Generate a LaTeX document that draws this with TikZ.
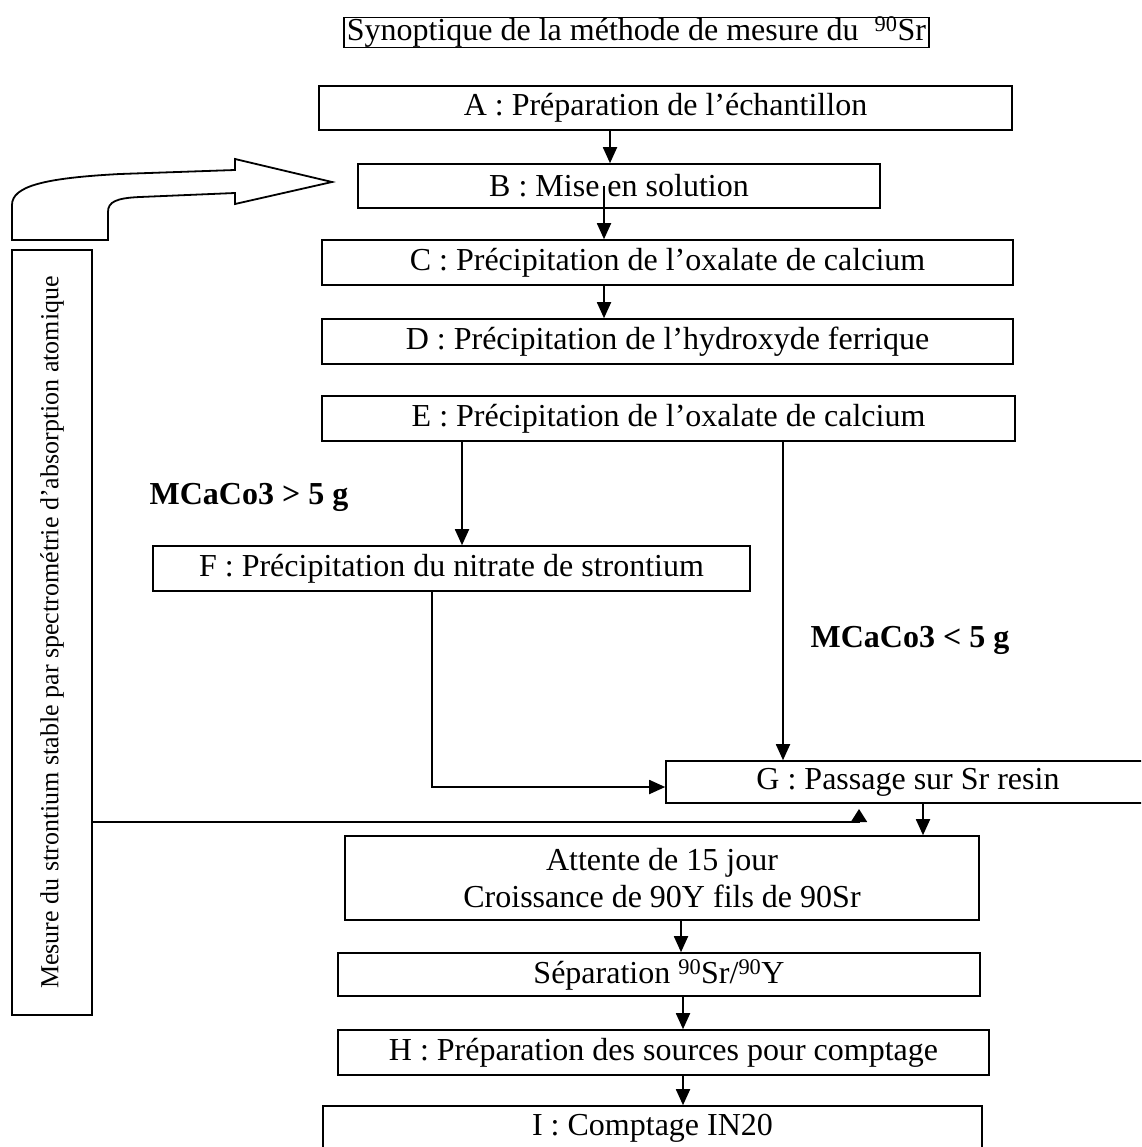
\documentclass[tikz,border=0pt]{standalone}
\usepackage{fontspec}
\setmainfont{Liberation Serif}
\usetikzlibrary{arrows.meta}

\tikzset{
  boite/.style={draw, line width=1.6pt, inner sep=0pt, font=\fontsize{32}{37}\selectfont},
  etiquette/.style={font=\fontsize{32}{37}\selectfont\bfseries},
  fleche/.style={line width=1.8pt, -{Triangle[length=16pt,width=14pt]}},
}

\begin{document}
\begin{tikzpicture}[x=1pt,y=-1pt]

    \useasboundingbox (0,0) rectangle (1141,1147) ;
    \clip (0,0) rectangle (1141,1147) ;

    % boxes
    \node[boite, anchor=west, inner xsep=3pt, text height=23pt, text depth=7pt] (titre) at (343,32.5) {Synoptique de la méthode de mesure du \ \textsuperscript{90}Sr} ;

    \node[boite, minimum width=693pt, minimum height=44pt] (A) at (665.5,108) {A : Préparation de l’échantillon} ;
    \node[boite, minimum width=522pt, minimum height=44pt] (B) at (619,186) {B : Mise en solution} ;
    \node[boite, minimum width=691pt, minimum height=45pt] (C) at (667.5,262.5) {C : Précipitation de l’oxalate de calcium} ;
    \node[boite, minimum width=691pt, minimum height=45pt] (D) at (667.5,341.5) {D : Précipitation de l’hydroxyde ferrique} ;
    \node[boite, minimum width=693pt, minimum height=45pt] (E) at (668.5,418.5) {E : Précipitation de l’oxalate de calcium} ;
    \node[boite, minimum width=597pt, minimum height=45pt] (F) at (451.5,568.5) {F : Précipitation du nitrate de strontium} ;
    \node[boite, minimum width=484pt, minimum height=42pt] (G) at (908,782) {G : Passage sur Sr resin} ;
    \node[boite, minimum width=634pt, minimum height=84pt, align=center] (attente) at (662,878) {Attente de 15 jour\\Croissance de 90Y fils de 90Sr} ;
    \node[boite, minimum width=642pt, minimum height=43pt] (sep) at (659,974.5) {Séparation \textsuperscript{90}Sr/\textsuperscript{90}Y} ;
    \node[boite, minimum width=651pt, minimum height=45pt] (H) at (663.5,1052.5) {H : Préparation des sources pour comptage} ;
    \node[boite, minimum width=659pt, minimum height=44pt] (I) at (652.5,1128) {I : Comptage IN20} ;

    \node[boite, rotate=90, minimum width=765pt, minimum height=80pt, font=\fontsize{26}{30}\selectfont] (V) at (52,632.5) {Mesure du strontium stable par spectrométrie d’absorption atomique} ;

    % labels
    \node[etiquette] (plus) at (249,497) {MCaCo3 > 5 g} ;
    \node[etiquette] (moins) at (910,640) {MCaCo3 < 5 g} ;

    % x positions of the arrows
    \coordinate (xAB) at (610,0) ;
    \coordinate (xBC) at (604,0) ;
    \coordinate (xEF) at (462,0) ;
    \coordinate (xEG) at (783,0) ;
    \coordinate (xFG) at (432,0) ;
    \coordinate (xGW) at (923,0) ;
    \coordinate (xWS) at (681,0) ;
    \coordinate (xSH) at (683,0) ;
    \coordinate (yFG) at (0,787) ;
    \coordinate (yV) at (0,822) ;
    \coordinate (tri) at (859,809) ;

    % arrows
    \draw[fleche] (A.south -| xAB) -- (B.north -| xAB) ;
    \draw[fleche] (B.center -| xBC) -- (C.north -| xBC) ;
    \draw[fleche] (C.south -| xBC) -- (D.north -| xBC) ;
    \draw[fleche] (E.south -| xEF) -- (F.north -| xEF) ;
    \draw[fleche] (E.south -| xEG) -- (G.north -| xEG) ;
    \draw[fleche] (F.south -| xFG) |- (G.west |- yFG) ;
    \draw[fleche] (G.south -| xGW) -- (attente.north -| xGW) ;
    \draw[fleche] (attente.south -| xWS) -- (sep.north -| xWS) ;
    \draw[fleche] (sep.south -| xSH) -- (H.north -| xSH) ;
    \draw[fleche] (H.south -| xSH) -- (I.north -| xSH) ;

    \draw[line width=1.8pt, -{Triangle[length=13pt,width=16pt]}] (V.south |- yV) -| (tri) ;

    % curved block arrow
    \draw[line width=1.8pt, line join=miter]
      (12,240) -- (12,205) .. controls (12,186) and (45,178) .. (120,174) -- (235,170)
      -- (235,159) -- (332,182) -- (235,204) -- (235,193) -- (140,197)
      .. controls (116,198) and (108,202) .. (108,212) -- (108,240) -- cycle ;

\end{tikzpicture}
\end{document}
